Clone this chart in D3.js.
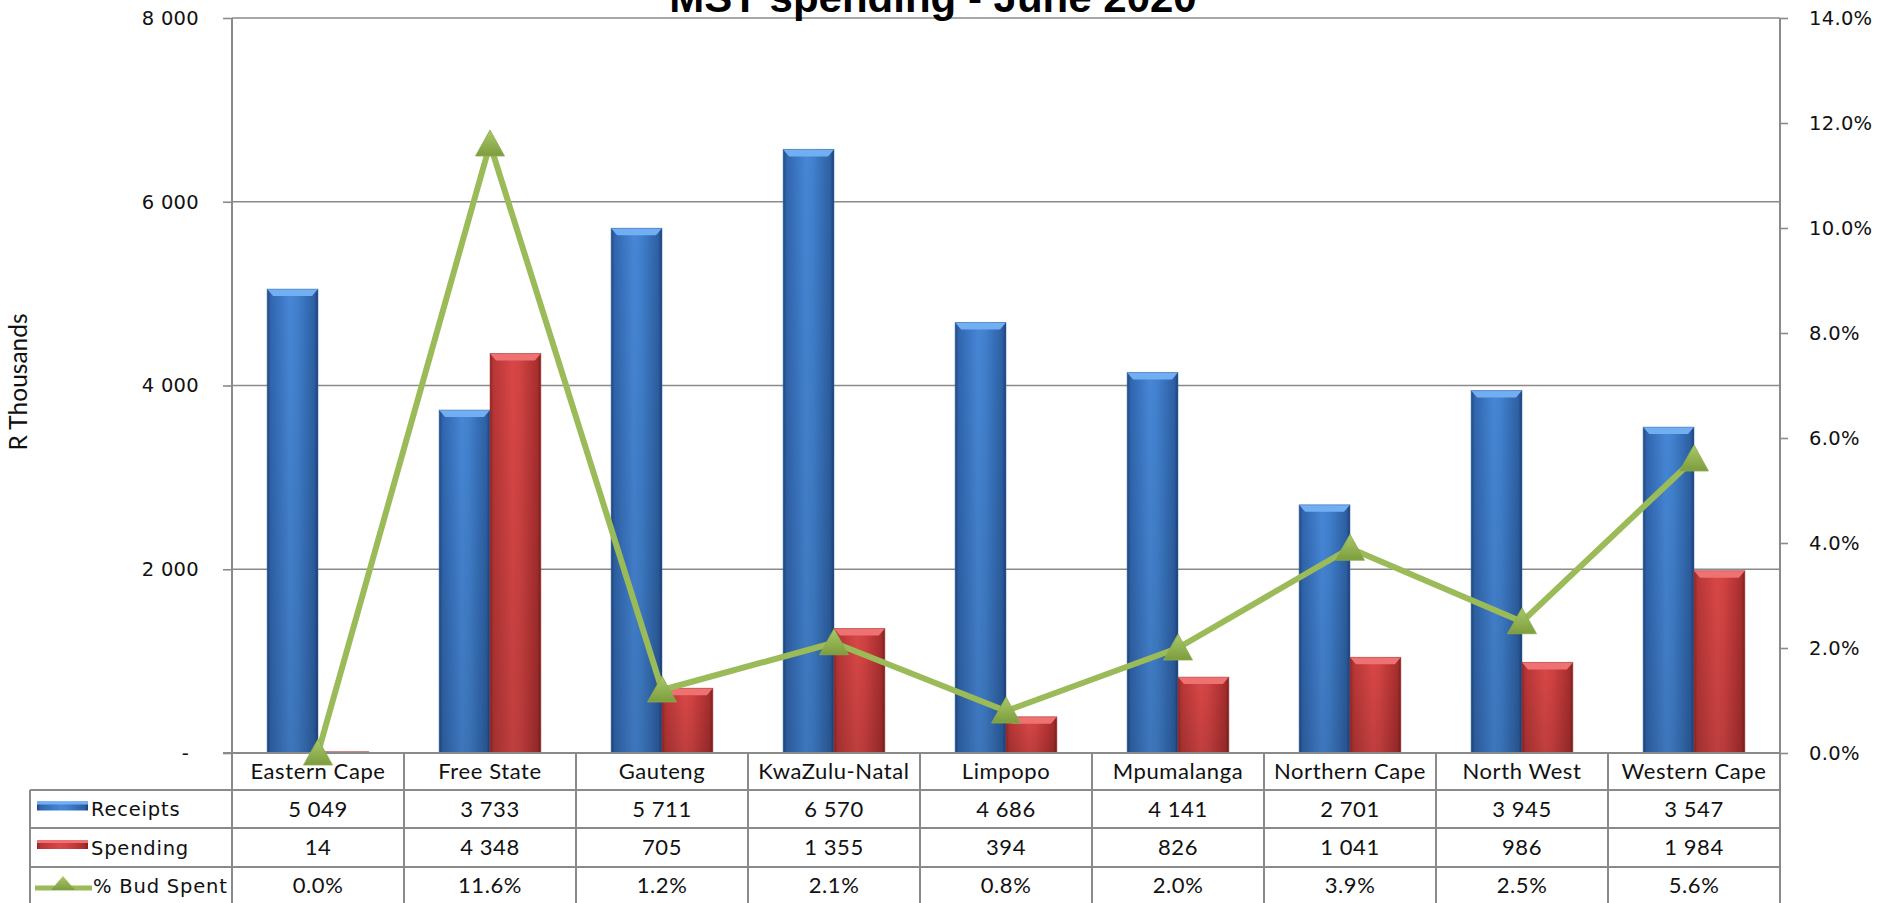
<!DOCTYPE html>
<html><head><meta charset="utf-8">
<script src="https://cdn.jsdelivr.net/npm/d3@7"></script>
<style>
html,body{margin:0;padding:0;background:#fff;}
svg{display:block;}
</style></head><body>
<svg id="chart" width="1883" height="903"></svg>
<script>
const titleText = "MST spending - June 2020";
const yAxisTitle = "R Thousands";
const categories = ["Eastern Cape","Free State","Gauteng","KwaZulu-Natal","Limpopo","Mpumalanga","Northern Cape","North West","Western Cape"];
const receipts = [5049,3733,5711,6570,4686,4141,2701,3945,3547];
const spending = [14,4348,705,1355,394,826,1041,986,1984];
const pctSpent = [0.0,11.6,1.2,2.1,0.8,2.0,3.9,2.5,5.6];
const leftTicks = [0,2000,4000,6000,8000];
const rightTicks = [0,2,4,6,8,10,12,14];
const seriesNames = ["Receipts","Spending","% Bud Spent"];

const svg = d3.select("#chart");
const plotL = 232, plotR = 1780, plotT = 18, plotB = 753;
const rowBounds = [753, 790, 828, 867, 905];
const tableL = 30;
const gridCol = "#8a8a8a";
const narrowFont = "Lato, 'Liberation Sans', sans-serif";
const wideFont = "'DejaVu Sans', Verdana, sans-serif";

const locale = d3.formatLocale({decimal: ".", thousands: " ", grouping: [3], currency: ["", ""]});
const fmtNum = locale.format(",d");
const fmtPct = d => d.toFixed(1) + "%";

const x = d3.scaleBand().domain(categories).range([plotL, plotR]);
const xs = d3.scaleBand().domain(["Receipts", "Spending"]).range([0, x.bandwidth()]).paddingOuter(0.69).paddingInner(0);
const yL = d3.scaleLinear().domain([0, 8000]).range([plotB, plotT]);
const yR = d3.scaleLinear().domain([0, 14]).range([plotB, plotT]);

// defs
const defs = svg.append("defs");
function hGrad(id, stops) {
  const g = defs.append("linearGradient").attr("id", id).attr("x1", 0).attr("x2", 1).attr("y1", 0).attr("y2", 0);
  stops.forEach(s => g.append("stop").attr("offset", s[0]).attr("stop-color", s[1]));
}
hGrad("blueG", [[0, "#22487f"], [0.07, "#3066ae"], [0.45, "#4686d6"], [0.6, "#4080cc"], [0.93, "#2d5fa3"], [1, "#1d4074"]]);
hGrad("redG", [[0, "#8e2626"], [0.07, "#b83636"], [0.45, "#d94747"], [0.6, "#d14242"], [0.93, "#a82e2e"], [1, "#7f2020"]]);
const vg = defs.append("linearGradient").attr("id", "shadeV").attr("x1", 0).attr("x2", 0).attr("y1", 0).attr("y2", 1);
vg.append("stop").attr("offset", 0).attr("stop-color", "#000").attr("stop-opacity", 0);
vg.append("stop").attr("offset", 1).attr("stop-color", "#000").attr("stop-opacity", 0.12);
const tg = defs.append("linearGradient").attr("id", "triG").attr("x1", 0).attr("x2", 0).attr("y1", 0).attr("y2", 1);
tg.append("stop").attr("offset", 0).attr("stop-color", "#a9c96a");
tg.append("stop").attr("offset", 1).attr("stop-color", "#7d9c3e");

// gridlines
svg.append("g").selectAll("line").data(leftTicks.filter(d => d > 0)).join("line")
  .attr("x1", plotL).attr("x2", plotR).attr("y1", d => yL(d)).attr("y2", d => yL(d))
  .attr("stroke", gridCol).attr("stroke-width", 1.6);

// bars
const barData = [];
categories.forEach((c, i) => {
  barData.push({c, s: "Receipts", v: receipts[i]});
  barData.push({c, s: "Spending", v: spending[i]});
});
const bars = svg.append("g").selectAll("g").data(barData).join("g");
bars.each(function(d) {
  const g = d3.select(this);
  const bx = x(d.c) + xs(d.s), bw = xs.bandwidth();
  const by = yL(d.v), bh = plotB - yL(d.v);
  const blue = d.s === "Receipts";
  g.append("rect").attr("x", bx).attr("y", by).attr("width", bw).attr("height", bh)
    .attr("fill", blue ? "url(#blueG)" : "url(#redG)");
  g.append("rect").attr("x", bx).attr("y", by).attr("width", bw).attr("height", bh)
    .attr("fill", "url(#shadeV)");
  const cap = Math.min(7, bh);
  const inset = Math.min(6, bw / 4);
  g.append("path")
    .attr("d", `M${bx},${by}L${bx + bw},${by}L${bx + bw - inset},${by + cap}L${bx + inset},${by + cap}Z`)
    .attr("fill", blue ? "#72aef2" : "#ee7272");
  g.append("rect").attr("x", bx).attr("y", by).attr("width", bw).attr("height", bh)
    .attr("fill", "none").attr("stroke", blue ? "#3a6cb0" : "#b04040").attr("stroke-opacity", 0.5).attr("stroke-width", 1);
});

// axes
const axL = d3.axisLeft(yL).tickValues(leftTicks).tickSize(9).tickSizeOuter(0).tickPadding(24)
  .tickFormat(d => d === 0 ? "-" : fmtNum(d));
const gL = svg.append("g").attr("transform", `translate(${plotL},0)`).call(axL);
gL.select(".domain").remove();
gL.selectAll(".tick line").attr("stroke", gridCol).attr("stroke-width", 1.6);
gL.selectAll(".tick text").attr("font-family", wideFont).attr("font-size", 19.5).attr("fill", "#111")
  .attr("letter-spacing", 0.3)
  .attr("x", d => d === 0 ? -43 : -33);

const axR = d3.axisRight(yR).tickValues(rightTicks).tickSize(8).tickSizeOuter(0).tickPadding(21)
  .tickFormat(fmtPct);
const gR = svg.append("g").attr("transform", `translate(${plotR},0)`).call(axR);
gR.select(".domain").remove();
gR.selectAll(".tick line").attr("stroke", gridCol).attr("stroke-width", 1.6);
gR.selectAll(".tick text").attr("font-family", wideFont).attr("font-size", 19.5).attr("fill", "#111")
  .attr("letter-spacing", 0.3);

// table lines
const tl = svg.append("g").attr("stroke", gridCol).attr("stroke-width", 2);
tl.append("line").attr("x1", plotL - 9).attr("x2", plotR).attr("y1", plotB).attr("y2", plotB);
rowBounds.slice(1, 4).forEach(y => tl.append("line").attr("x1", tableL).attr("x2", plotR).attr("y1", y).attr("y2", y));
tl.append("line").attr("x1", tableL).attr("x2", tableL).attr("y1", rowBounds[1]).attr("y2", 905);
tl.append("line").attr("x1", plotL).attr("x2", plotL).attr("y1", plotT).attr("y2", 905);
tl.append("line").attr("x1", plotR).attr("x2", plotR).attr("y1", plotT).attr("y2", 905);
categories.slice(1).forEach(c => tl.append("line").attr("x1", x(c)).attr("x2", x(c)).attr("y1", plotB).attr("y2", 905));

// table text
const rowMid = i => (rowBounds[i] + rowBounds[i + 1]) / 2;
const txt = svg.append("g").attr("font-family", narrowFont).attr("font-size", 22).attr("fill", "#111")
  .attr("text-anchor", "middle").attr("letter-spacing", 0.6);
txt.selectAll("text.cat").data(categories).join("text").attr("class", "cat")
  .attr("x", d => x(d) + x.bandwidth() / 2).attr("y", rowMid(0)).attr("dy", "0.36em").text(d => d);
[receipts, spending].forEach((arr, r) => {
  txt.selectAll("text.r" + r).data(arr).join("text").attr("class", "r" + r)
    .attr("x", (d, i) => x(categories[i]) + x.bandwidth() / 2).attr("y", rowMid(r + 1)).attr("dy", "0.36em")
    .text(d => fmtNum(d));
});
txt.selectAll("text.r2").data(pctSpent).join("text").attr("class", "r2")
  .attr("x", (d, i) => x(categories[i]) + x.bandwidth() / 2).attr("y", rowMid(3) - 1).attr("dy", "0.36em")
  .text(d => fmtPct(d));

// legend keys in table
const lg = svg.append("g");
[0, 1].forEach(k => {
  const cy = rowMid(k + 1) - 3;
  lg.append("rect").attr("x", 37).attr("y", cy - 4.5).attr("width", 51).attr("height", 9)
    .attr("fill", k === 0 ? "url(#blueG)" : "url(#redG)");
  lg.append("rect").attr("x", 37).attr("y", cy - 4.5).attr("width", 51).attr("height", 3)
    .attr("fill", k === 0 ? "#72aef2" : "#ee7272");
});
{
  const cy = rowMid(3) + 2;
  lg.append("line").attr("x1", 35).attr("x2", 92).attr("y1", cy).attr("y2", cy)
    .attr("stroke", "#9bbb59").attr("stroke-width", 5);
  lg.append("path").attr("d", `M${63},${cy - 12}L${75},${cy + 2}L${51},${cy + 2}Z`).attr("fill", "url(#triG)");
}
lg.selectAll("text").data(seriesNames).join("text")
  .attr("x", (d, i) => i === 2 ? 93 : 91).attr("y", (d, i) => rowMid(i + 1)).attr("dy", "0.36em")
  .attr("font-family", wideFont).attr("font-size", 19.5).attr("letter-spacing", 0.8).attr("fill", "#111")
  .text(d => d);

// line series
const lineGen = d3.line().x((d, i) => x(categories[i]) + x.bandwidth() / 2).y(d => yR(d));
svg.append("path").datum(pctSpent).attr("d", lineGen).attr("fill", "none")
  .attr("stroke", "#9bbb59").attr("stroke-width", 6).attr("stroke-linejoin", "round");
svg.append("g").selectAll("path").data(pctSpent).join("path")
  .attr("transform", (d, i) => `translate(${x(categories[i]) + x.bandwidth() / 2},${yR(d)})`)
  .attr("d", "M0,-14L14.5,12L-14.5,12Z").attr("fill", "url(#triG)")
  .attr("stroke", "#8aab4c").attr("stroke-width", 0.8);

// y axis title
svg.append("text").attr("transform", "translate(18,382) rotate(-90)")
  .attr("text-anchor", "middle").attr("dy", "0.36em")
  .attr("font-family", narrowFont).attr("font-size", 24.5).attr("fill", "#111").text(yAxisTitle);

// title (cut off at top as in reference)
svg.append("text").attr("x", 933).attr("y", 12).attr("text-anchor", "middle")
  .attr("font-family", "'Liberation Sans', Arial, sans-serif").attr("font-weight", "bold")
  .attr("font-size", 42).attr("fill", "#000").text(titleText);
</script>
</body></html>
